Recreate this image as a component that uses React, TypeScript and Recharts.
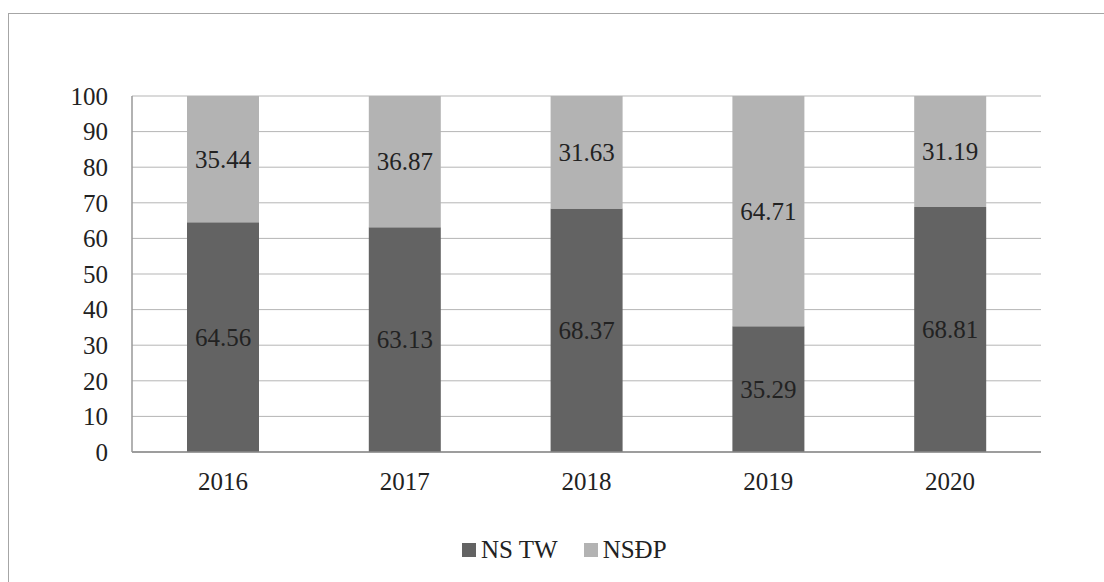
import React from "react";
import { BarChart, Bar, XAxis, YAxis, CartesianGrid, LabelList } from "recharts";

const categories = ["2016", "2017", "2018", "2019", "2020"];
const nsTW = [64.56, 63.13, 68.37, 35.29, 68.81];
const nsDP = [35.44, 36.87, 31.63, 64.71, 31.19];
const yTicks = [0, 10, 20, 30, 40, 50, 60, 70, 80, 90, 100];
const series = [
  { key: "tw", name: "NS TW", color: "#636363" },
  { key: "dp", name: "NSĐP", color: "#b3b3b3" },
];

const data = categories.map((c, i) => ({ year: c, tw: nsTW[i], dp: nsDP[i] }));

const FONT = "serif";
const TEXT = "#222222";

const renderLabel = (props: any) => {
  const { x, y, width, height, value } = props;
  return (
    <text
      x={x + width / 2}
      y={y + height / 2}
      textAnchor="middle"
      dominantBaseline="central"
      fill={TEXT}
      fontSize={25}
      fontFamily={FONT}
    >
      {value}
    </text>
  );
};

export default function App() {
  return (
    <div
      style={{
        position: "fixed",
        left: 0,
        top: 0,
        width: 1104,
        height: 582,
        overflow: "hidden",
        background: "#ffffff",
        fontFamily: FONT,
      }}
    >
      <div
        style={{
          position: "absolute",
          left: 8,
          top: 13,
          width: 1200,
          height: 700,
          border: "1px solid #a6a6a6",
        }}
      />
      <div style={{ position: "absolute", left: 0, top: 0 }}>
        <BarChart
          width={1104}
          height={582}
          data={data}
          margin={{ top: 96, right: 63, bottom: 100, left: 0 }}
        >
          <CartesianGrid vertical={false} stroke="#b5b5b5" strokeWidth={1} />
          <XAxis
            dataKey="year"
            height={30}
            axisLine={{ stroke: "#888888", strokeWidth: 1.5 }}
            tickLine={false}
            tickSize={0}
            tickMargin={20}
            tick={{ fill: TEXT, fontSize: 25, fontFamily: FONT }}
          />
          <YAxis
            width={132}
            domain={[0, 100]}
            ticks={yTicks}
            interval={0}
            axisLine={{ stroke: "#999999", strokeWidth: 1.5 }}
            tickLine={false}
            tickSize={0}
            tickMargin={24}
            tick={{ fill: TEXT, fontSize: 25, fontFamily: FONT }}
          />
          {series.map((s) => (
            <Bar
              key={s.key}
              dataKey={s.key}
              name={s.name}
              stackId="a"
              fill={s.color}
              barSize={72}
              isAnimationActive={false}
            >
              <LabelList dataKey={s.key} content={renderLabel} />
            </Bar>
          ))}
        </BarChart>
      </div>
      <div
        style={{
          position: "absolute",
          left: 462,
          top: 536,
          display: "flex",
          alignItems: "center",
          fontFamily: FONT,
          fontSize: 25,
          color: TEXT,
          whiteSpace: "nowrap",
        }}
      >
        {series.map((s, i) => (
          <div
            key={s.key}
            style={{ display: "flex", alignItems: "center", marginRight: i === 0 ? 26 : 0 }}
          >
            <div style={{ width: 14, height: 14, background: s.color, marginRight: 5 }} />
            <span style={{ lineHeight: "28px" }}>{s.name}</span>
          </div>
        ))}
      </div>
    </div>
  );
}
